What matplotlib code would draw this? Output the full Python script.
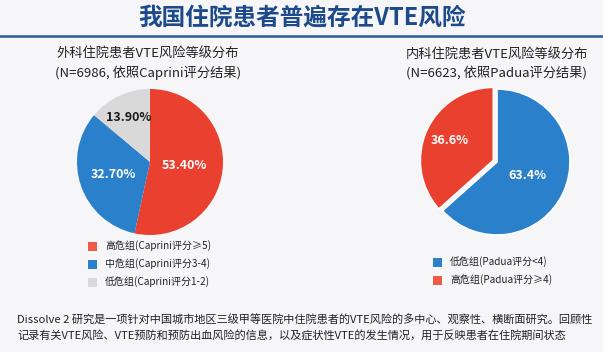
import matplotlib
matplotlib.use("Agg")
import matplotlib.pyplot as plt
from matplotlib.patches import Rectangle
from matplotlib.lines import Line2D
import numpy as np

plt.rcParams['font.family'] = ['Noto Sans CJK SC', 'DejaVu Sans']

title = "我国住院患者普遍存在VTE风险"
left_title = "外科住院患者VTE风险等级分布\n(N=6986, 依照Caprini评分结果)"
right_title = "内科住院患者VTE风险等级分布\n(N=6623, 依照Padua评分结果)"

surg_labels = ["高危组(Caprini评分≥5)", "中危组(Caprini评分3-4)", "低危组(Caprini评分1-2)"]
surg_values = [53.40, 32.70, 13.90]
surg_texts = ["53.40%", "32.70%", "13.90%"]

med_labels = ["低危组(Padua评分<4)", "高危组(Padua评分≥4)"]
med_values = [63.4, 36.6]
med_texts = ["63.4%", "36.6%"]

footer = ("Dissolve 2 研究是一项针对中国城市地区三级甲等医院中住院患者的VTE风险的多中心、观察性、横断面研究。回顾性\n"
          "记录有关VTE风险、VTE预防和预防出血风险的信息，以及症状性VTE的发生情况，用于反映患者在住院期间状态")

RED = "#e9402f"
BLUE = "#2b80cc"
GRAY = "#d9d9d9"
TITLE_C = "#1d4a8a"

W, H = 603, 352
fig = plt.figure(figsize=(W / 100, H / 100), dpi=100)
fig.patch.set_facecolor("#f6f6f8")

def px_axes(cx, cy, r, lim=1.1):
    s = 2 * r * lim
    return fig.add_axes([(cx - s / 2) / W, 1 - (cy + s / 2) / H, s / W, s / H])

# title & rule
fig.text(302 / W, 1 - 17 / H, title, ha="center", va="center", fontsize=17,
         fontweight="bold", color=TITLE_C)
fig.add_artist(Line2D([0, 1], [1 - 35.5 / H, 1 - 35.5 / H], color="#2a5a96", lw=1.8))

# subtitles
fig.text(148 / W, 1 - 64 / H, left_title, ha="center", va="center", fontsize=9.5,
         color="#222222", linespacing=1.35)
fig.text(497 / W, 1 - 64 / H, right_title, ha="center", va="center", fontsize=9.5,
         color="#222222", linespacing=1.35)

# left pie
ax1 = px_axes(150, 162, 73)
wedges, _ = ax1.pie(surg_values, colors=[RED, BLUE, GRAY], startangle=90,
                    counterclock=False, radius=1,
                    wedgeprops=dict(linewidth=0))
dists = [0.48, 0.53, 0.68]
tcols = ["white", "white", "#1a1a1a"]
for w, t, d, c in zip(wedges, surg_texts, dists, tcols):
    ang = np.deg2rad((w.theta1 + w.theta2) / 2)
    ax1.text(d * np.cos(ang), d * np.sin(ang), t, ha="center", va="center",
             fontsize=9, fontweight="bold", color=c)
ax1.set_xlim(-1.1, 1.1); ax1.set_ylim(-1.1, 1.1); ax1.set_aspect("equal"); ax1.axis("off")

# right pie
ax2 = px_axes(497, 162, 73)
wedges2, _ = ax2.pie(med_values, colors=[BLUE, RED], startangle=90,
                     counterclock=False, radius=1, explode=[0, 0.055],
                     wedgeprops=dict(linewidth=1.2, edgecolor="white"))
dists2 = [0.45, 0.66]
for i, (w, t, d) in enumerate(zip(wedges2, med_texts, dists2)):
    ang = np.deg2rad((w.theta1 + w.theta2) / 2)
    off = 0.055 if i == 1 else 0
    ax2.text((d + off) * np.cos(ang), (d + off) * np.sin(ang), t, ha="center", va="center",
             fontsize=9, fontweight="bold", color="white")
ax2.set_xlim(-1.1, 1.1); ax2.set_ylim(-1.1, 1.1); ax2.set_aspect("equal"); ax2.axis("off")

# legends
def legend(x, y0, labels, colors, step=18):
    for i, (lab, col) in enumerate(zip(labels, colors)):
        y = y0 + i * step
        fig.add_artist(Rectangle(((x - 4.5) / W, 1 - (y + 4.5) / H), 9 / W, 9 / H,
                                 facecolor=col, edgecolor="none"))
        fig.text((x + 13) / W, 1 - y / H, lab, ha="left", va="center", fontsize=7.2,
                 color="#222222")

legend(92, 246, surg_labels, ["#f05a48", BLUE, GRAY])
legend(437, 262, med_labels, [BLUE, "#f05a48"])

# footer
fig.text(17 / W, 1 - 328 / H, footer, ha="left", va="center", fontsize=8.05,
         color="#222222", linespacing=1.45)

fig.savefig("out.png", dpi=100, facecolor=fig.get_facecolor())
